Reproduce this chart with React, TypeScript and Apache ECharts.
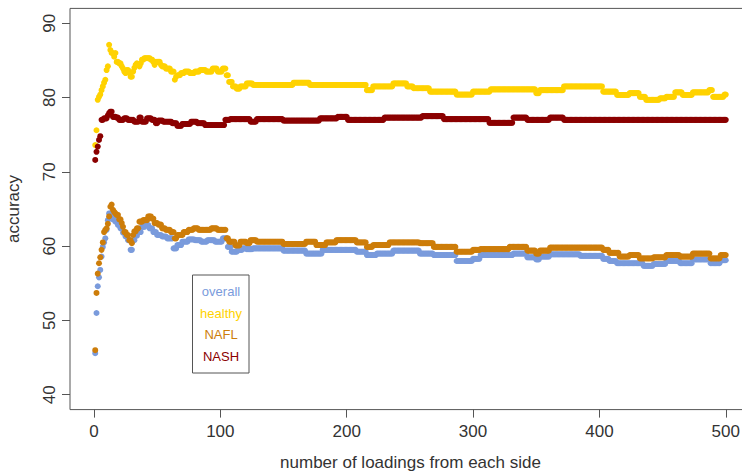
import { useEffect, useRef } from "react";
import * as echarts from "echarts";

const xTicks = [0, 100, 200, 300, 400, 500];
const yTicks = [40, 50, 60, 70, 80, 90];
const seriesNames = ["overall", "healthy", "NAFL", "NASH"];
const seriesColors = ["#7A9BDC", "#FFD200", "#CD7D0A", "#8B0000"];

// step data: [first x of run, accuracy] -- value holds until the next entry
const overallSteps: [number, number][] = [[1,45.6],[2,51.0],[3,54.6],[4,55.8],[5,56.8],[6,58.6],[7,59.9],[8,60.5],[9,61.05],[10,62.2],[11,63.5],[12,64.4],[14,64.0],[15,63.6],[17,63.3],[19,62.85],[21,62.4],[23,61.8],[25,61.3],[27,60.8],[29,59.5],[31,60.8],[33,61.4],[35,61.9],[38,62.6],[41,62.85],[44,62.4],[47,61.9],[50,61.5],[54,61.3],[58,61.05],[63,59.7],[66,60.15],[70,60.6],[75,60.9],[80,60.8],[85,60.6],[90,60.8],[96,60.6],[102,61.05],[106,59.9],[109,59.25],[114,59.5],[118,59.7],[121,59.6],[126,59.7],[150,59.4],[168,59.0],[181,59.5],[208,59.25],[216,58.8],[224,59.0],[237,59.4],[258,59.0],[269,58.8],[287,58.0],[300,58.3],[306,58.8],[332,59.0],[343,58.5],[350,58.2],[353,58.6],[361,58.9],[385,58.7],[403,58.3],[408,58.0],[414,57.7],[435,57.35],[443,57.6],[453,58.0],[464,57.7],[474,58.2],[488,57.7],[496,58.1]];

const healthySteps: [number, number][] = [[1,73.6],[2,75.6],[3,79.7],[4,80.1],[5,80.4],[6,81.0],[7,81.5],[8,82.0],[9,82.4],[10,83.7],[11,84.2],[12,87.1],[13,86.4],[14,86.0],[16,85.5],[17,86.0],[18,84.8],[20,84.6],[22,84.2],[23,83.9],[24,83.5],[25,83.3],[26,83.7],[28,83.3],[29,82.8],[31,83.5],[32,84.0],[33,84.4],[34,84.6],[35,84.4],[36,84.2],[37,84.6],[38,85.1],[40,85.3],[45,85.1],[47,84.8],[48,84.4],[49,84.8],[53,84.4],[54,84.2],[57,83.9],[61,83.5],[64,82.4],[65,82.8],[66,83.0],[69,83.3],[72,83.5],[76,83.3],[80,83.5],[84,83.7],[89,83.5],[94,83.9],[98,83.5],[102,83.9],[105,83.0],[107,82.1],[110,81.5],[113,81.2],[116,81.5],[121,81.9],[126,81.7],[158,82.0],[171,81.7],[216,81.0],[221,81.5],[237,81.9],[248,81.5],[253,81.25],[266,80.8],[287,80.4],[300,80.8],[314,81.1],[350,80.6],[353,81.0],[372,81.5],[403,80.8],[414,80.35],[424,80.6],[432,80.1],[437,79.7],[448,79.9],[453,80.1],[460,80.7],[466,80.35],[474,80.7],[487,81.0],[490,80.1],[499,80.4]];

const naflSteps: [number, number][] = [[1,46.0],[2,53.7],[3,56.3],[4,57.7],[5,58.5],[6,59.5],[7,60.5],[8,61.9],[9,62.2],[10,62.4],[11,63.0],[12,64.0],[13,65.3],[14,65.6],[15,64.9],[16,64.6],[17,64.4],[18,64.2],[20,63.6],[22,63.1],[23,62.6],[24,61.9],[26,61.5],[28,60.8],[30,60.4],[31,61.5],[32,62.0],[34,62.4],[36,63.3],[39,63.5],[43,64.0],[46,63.7],[48,63.1],[51,62.9],[54,62.4],[57,62.2],[61,61.9],[64,61.05],[66,61.5],[71,61.9],[75,62.2],[79,62.4],[83,62.2],[93,62.4],[98,62.2],[105,61.05],[107,60.6],[112,60.1],[116,60.6],[121,60.4],[124,60.8],[129,60.6],[150,60.3],[168,60.6],[176,60.15],[184,60.5],[192,60.8],[208,60.5],[216,59.9],[221,60.15],[234,60.5],[258,60.4],[269,59.9],[287,59.25],[300,59.5],[306,59.6],[329,59.9],[343,59.4],[350,59.0],[353,59.4],[361,59.8],[403,59.5],[408,59.1],[416,58.6],[424,58.8],[432,58.35],[443,58.5],[453,58.8],[464,58.6],[474,59.0],[488,58.35],[496,58.8]];

const nashSteps: [number, number][] = [[1,71.6],[2,72.7],[3,73.4],[4,74.3],[5,74.8],[6,77.0],[8,77.2],[11,77.6],[12,77.9],[13,78.1],[15,77.4],[18,77.3],[20,77.0],[24,77.2],[27,77.0],[32,76.75],[36,77.3],[38,76.75],[42,77.2],[46,77.0],[49,76.55],[51,76.9],[55,76.75],[62,76.55],[66,76.2],[70,76.45],[77,76.75],[82,76.55],[88,76.3],[104,77.0],[108,77.1],[124,76.75],[129,77.1],[150,76.9],[179,77.2],[193,77.4],[201,77.0],[230,77.3],[260,77.5],[277,77.1],[313,76.6],[332,77.3],[343,77.0],[361,77.3],[372,77.0]];

const N_LOADINGS = 500;

function expandSteps(steps: [number, number][]): [number, number][] {
  const out: [number, number][] = [];
  let j = 0;
  for (let x = 1; x <= N_LOADINGS; x++) {
    while (j + 1 < steps.length && steps[j + 1][0] <= x) j++;
    out.push([x, steps[j][1]]);
  }
  return out;
}

const FONT = "'Liberation Sans', Arial, Helvetica, sans-serif";

export default function App() {
  const ref = useRef<HTMLDivElement>(null);
  useEffect(() => {
    if (!ref.current) return;
    const chart = echarts.init(ref.current, null, { renderer: "svg" });
    const allSteps = [overallSteps, healthySteps, naflSteps, nashSteps];
    const legendTop = 275;
    const legendH = 98;
    chart.setOption({
      animation: false,
      backgroundColor: "#ffffff",
      grid: {
        left: 70,
        top: 8.4,
        width: 681,
        height: 401.2,
        show: true,
        borderColor: "#555",
        borderWidth: 1,
        backgroundColor: "transparent",
        containLabel: false,
        outerBoundsMode: "none",
      },
      xAxis: {
        type: "value",
        min: -18.96,
        max: 519.96,
        axisLine: { show: false, onZero: false },
        splitLine: { show: false },
        axisTick: { show: true, customValues: xTicks, length: 8, lineStyle: { color: "#555", width: 1 } },
        axisLabel: { customValues: xTicks, fontSize: 17, color: "#333", margin: 13, fontFamily: FONT },
        name: "number of loadings from each side",
        nameLocation: "middle",
        nameGap: 44,
        nameTextStyle: { fontSize: 17, color: "#333", fontFamily: FONT },
      },
      yAxis: {
        type: "value",
        min: 38,
        max: 92,
        axisLine: { show: false, onZero: false },
        splitLine: { show: false },
        axisTick: { show: true, customValues: yTicks, length: 8, lineStyle: { color: "#555", width: 1 } },
        axisLabel: { customValues: yTicks, rotate: 90, fontSize: 17, color: "#333", margin: 12, fontFamily: FONT },
        name: "accuracy",
        nameLocation: "middle",
        nameRotate: 90,
        nameGap: 48,
        nameTextStyle: { fontSize: 17, color: "#333", fontFamily: FONT },
      },
      series: seriesNames.map((name, i) => ({
        name,
        type: "scatter",
        data: expandSteps(allSteps[i]),
        symbol: "circle",
        symbolSize: 6,
        itemStyle: { color: seriesColors[i], opacity: 1 },
        emphasis: { disabled: true },
      })),
      graphic: [
        {
          type: "rect",
          z: 100,
          shape: { x: 192.5, y: legendTop, width: 56.5, height: legendH },
          style: { fill: "#fff", stroke: "#555", lineWidth: 1 },
        },
        ...seriesNames.map((name, i) => ({
          type: "text",
          z: 101,
          x: 221,
          y: legendTop + 16.5 + 21.7 * i,
          style: {
            text: name,
            fill: seriesColors[i],
            font: `13px ${FONT}`,
            textAlign: "center",
            textVerticalAlign: "middle",
          },
        })),
      ],
    });
    return () => chart.dispose();
  }, []);
  return (
    <div
      ref={ref}
      style={{ position: "absolute", left: 0, top: 0, width: 742, height: 471 }}
    />
  );
}
